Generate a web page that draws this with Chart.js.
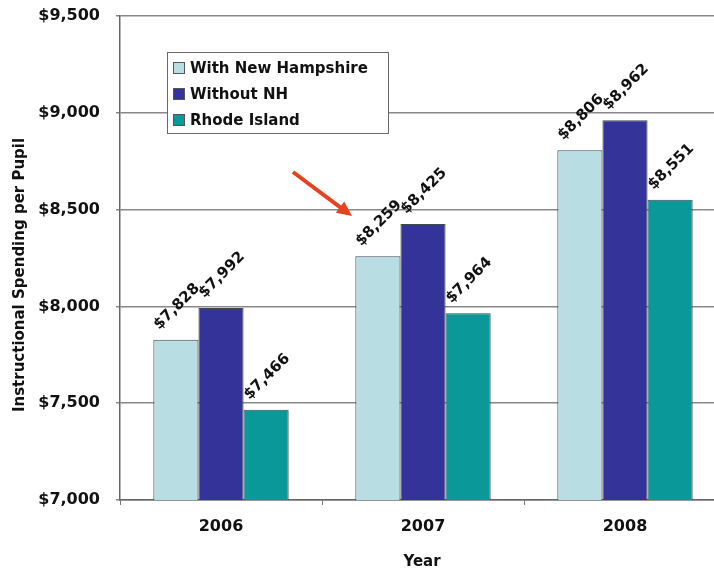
<!DOCTYPE html>
<html><head><meta charset="utf-8">
<script src="https://cdn.jsdelivr.net/npm/chart.js@4/dist/chart.umd.min.js"></script>
<style>
html,body{margin:0;padding:0;background:#fff;overflow:hidden;}
#wrap{width:714px;height:573px;overflow:hidden;position:relative;}
canvas{display:block;}
</style></head>
<body><div id="wrap"><canvas id="c" width="740" height="573"></canvas></div>
<script>
const categories = ["2006", "2007", "2008"];
const withNH = [7828, 8259, 8806];
const withoutNH = [7992, 8425, 8962];
const rhodeIsland = [7466, 7964, 8551];
const seriesNames = ["With New Hampshire", "Without NH", "Rhode Island"];
const yTicks = [7000, 7500, 8000, 8500, 9000, 9500];
const xTitle = "Year";
const yTitle = "Instructional Spending per Pupil";

const colors = ["#b8dde2", "#333399", "#0a9898"];
const FONT = "'DejaVu Sans', sans-serif";
const money = v => "$" + v.toLocaleString("en-US");

const overlay = {
  id: "overlay",
  afterDatasetsDraw(chart) {
    const ctx = chart.ctx;
    ctx.save();
    // value labels
    ctx.fillStyle = "#111";
    ctx.font = "bold 15px " + FONT;
    ctx.textAlign = "center";
    ctx.textBaseline = "middle";
    chart.data.datasets.forEach((ds, i) => {
      const meta = chart.getDatasetMeta(i);
      meta.data.forEach((el, j) => {
        ctx.save();
        ctx.translate(el.x + 1, el.y - 33);
        ctx.rotate(-Math.PI / 4);
        ctx.fillText(money(ds.data[j]), 0, 0);
        ctx.restore();
      });
    });
    // legend
    const lx = 167, ly = 52, lw = 221, lh = 81;
    ctx.fillStyle = "#fff";
    ctx.fillRect(lx, ly, lw, lh);
    ctx.strokeStyle = "#6a6a6a";
    ctx.lineWidth = 1;
    ctx.strokeRect(lx + 0.5, ly + 0.5, lw, lh);
    ctx.textAlign = "left";
    ctx.font = "bold 15px " + FONT;
    chart.data.datasets.forEach((ds, i) => {
      const cy = 68 + i * 26;
      ctx.fillStyle = ds.backgroundColor;
      ctx.fillRect(173, cy - 6, 12, 12);
      ctx.strokeStyle = "#555";
      ctx.strokeRect(173.5, cy - 5.5, 11, 11);
      ctx.fillStyle = "#111";
      ctx.fillText(ds.label, 190, cy + 1);
    });
    // arrow
    ctx.strokeStyle = "#e5431f";
    ctx.fillStyle = "#e5431f";
    ctx.lineWidth = 4;
    const x1 = 293, y1 = 172, x2 = 352, y2 = 216;
    const ang = Math.atan2(y2 - y1, x2 - x1);
    ctx.beginPath();
    ctx.moveTo(x1, y1);
    ctx.lineTo(x2 - 10 * Math.cos(ang), y2 - 10 * Math.sin(ang));
    ctx.stroke();
    ctx.beginPath();
    ctx.moveTo(x2, y2);
    ctx.lineTo(x2 - 15 * Math.cos(ang) + 7 * Math.sin(ang), y2 - 15 * Math.sin(ang) - 7 * Math.cos(ang));
    ctx.lineTo(x2 - 15 * Math.cos(ang) - 7 * Math.sin(ang), y2 - 15 * Math.sin(ang) + 7 * Math.cos(ang));
    ctx.closePath();
    ctx.fill();
    // titles
    ctx.fillStyle = "#111";
    ctx.textAlign = "center";
    ctx.font = "bold 15px " + FONT;
    ctx.fillText(xTitle, 422, 562);
    ctx.save();
    ctx.translate(20, 275);
    ctx.rotate(-Math.PI / 2);
    ctx.fillText(yTitle, 0, 0);
    ctx.restore();
    ctx.restore();
  }
};

new Chart(document.getElementById("c"), {
  type: "bar",
  data: {
    labels: categories,
    datasets: [
      { label: seriesNames[0], data: withNH, backgroundColor: colors[0] },
      { label: seriesNames[1], data: withoutNH, backgroundColor: colors[1] },
      { label: seriesNames[2], data: rhodeIsland, backgroundColor: colors[2] }
    ].map(d => Object.assign(d, { borderColor: "#3e4a4e", borderWidth: 1, borderSkipped: "bottom" }))
  },
  options: {
    responsive: false,
    animation: false,
    devicePixelRatio: 1,
    layout: { padding: { left: 0, top: 16, right: 14, bottom: 0 } },
    plugins: { legend: { display: false }, tooltip: { enabled: false } },
    datasets: { bar: { categoryPercentage: 0.67, barPercentage: 1.0 } },
    scales: {
      x: {
        offset: true,
        grid: { drawOnChartArea: false, drawTicks: true, tickLength: 5, color: "#777", offset: true },
        border: { color: "#666", width: 1.5 },
        ticks: { color: "#111", font: { family: FONT, weight: "bold", size: 16 }, padding: 12 },
        afterFit: s => { s.height = 73; s.paddingLeft = 0; s.paddingRight = 0; }
      },
      y: {
        min: 7000, max: 9500,
        afterBuildTicks: s => { s.ticks = yTicks.map(v => ({ value: v })); },
        grid: { color: "#888", lineWidth: 1.5, tickLength: 4 },
        border: { color: "#666", width: 1.5 },
        ticks: { color: "#111", font: { family: FONT, weight: "bold", size: 16 }, padding: 16, callback: v => money(v) },
        afterFit: s => { s.width = 120; s.paddingTop = 0; s.paddingBottom = 0; }
      }
    }
  },
  plugins: [overlay]
});
</script></body></html>
